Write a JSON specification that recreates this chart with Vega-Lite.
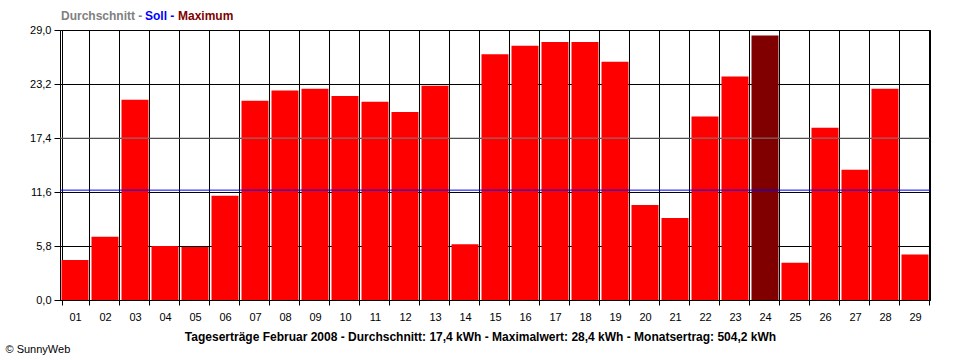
{
  "$schema": "https://vega.github.io/schema/vega-lite/v6.json",
  "width": 870,
  "height": 270,
  "autosize": "none",
  "padding": {"left": 60, "top": 30, "right": 30, "bottom": 60},
  "background": "white",
  "config": {
    "view": {"stroke": "black", "strokeWidth": 1},
    "font": "Liberation Sans"
  },
  "datasets": {
    "tage": [
      {"tag": "01", "wert": 4.3, "typ": "Tag"},
      {"tag": "02", "wert": 6.8, "typ": "Tag"},
      {"tag": "03", "wert": 21.5, "typ": "Tag"},
      {"tag": "04", "wert": 5.8, "typ": "Tag"},
      {"tag": "05", "wert": 5.7, "typ": "Tag"},
      {"tag": "06", "wert": 11.2, "typ": "Tag"},
      {"tag": "07", "wert": 21.4, "typ": "Tag"},
      {"tag": "08", "wert": 22.5, "typ": "Tag"},
      {"tag": "09", "wert": 22.7, "typ": "Tag"},
      {"tag": "10", "wert": 21.9, "typ": "Tag"},
      {"tag": "11", "wert": 21.3, "typ": "Tag"},
      {"tag": "12", "wert": 20.2, "typ": "Tag"},
      {"tag": "13", "wert": 23.0, "typ": "Tag"},
      {"tag": "14", "wert": 6.0, "typ": "Tag"},
      {"tag": "15", "wert": 26.4, "typ": "Tag"},
      {"tag": "16", "wert": 27.3, "typ": "Tag"},
      {"tag": "17", "wert": 27.7, "typ": "Tag"},
      {"tag": "18", "wert": 27.7, "typ": "Tag"},
      {"tag": "19", "wert": 25.6, "typ": "Tag"},
      {"tag": "20", "wert": 10.2, "typ": "Tag"},
      {"tag": "21", "wert": 8.8, "typ": "Tag"},
      {"tag": "22", "wert": 19.7, "typ": "Tag"},
      {"tag": "23", "wert": 24.0, "typ": "Tag"},
      {"tag": "24", "wert": 28.4, "typ": "Maximum"},
      {"tag": "25", "wert": 4.0, "typ": "Tag"},
      {"tag": "26", "wert": 18.5, "typ": "Tag"},
      {"tag": "27", "wert": 14.0, "typ": "Tag"},
      {"tag": "28", "wert": 22.7, "typ": "Tag"},
      {"tag": "29", "wert": 4.9, "typ": "Tag"}
    ],
    "soll": [{"soll": 11.8}]
  },
  "layer": [
    {
      "data": {"name": "tage"},
      "mark": {"type": "bar"},
      "encoding": {
        "x": {
          "field": "tag",
          "type": "ordinal",
          "title": "Tageserträge Februar 2008 - Durchschnitt: 17,4 kWh - Maximalwert: 28,4 kWh - Monatsertrag: 504,2 kWh",
          "scale": {"paddingInner": 0.1, "paddingOuter": 0.05},
          "axis": {
            "tickBand": "extent",
            "grid": true,
            "gridColor": "black",
            "gridOpacity": 1,
            "gridWidth": 1,
            "domainColor": "black",
            "tickColor": "black",
            "tickSize": 5,
            "labelAngle": 0,
            "labelFont": "Liberation Sans",
            "labelFontSize": 11,
            "labelColor": "black",
            "labelPadding": 6,
            "titleFont": "Liberation Sans",
            "titleFontSize": 12,
            "titleFontWeight": "bold",
            "titleColor": "black",
            "titleX": 420,
            "titleY": 40,
            "titleAlign": "center",
            "titleBaseline": "alphabetic"
          }
        },
        "y": {
          "field": "wert",
          "type": "quantitative",
          "title": "© SunnyWeb",
          "scale": {"domain": [0, 29], "nice": false, "zero": true},
          "axis": {
            "values": [0, 5.8, 11.6, 17.4, 23.2, 29],
            "labelExpr": "replace(format(datum.value, '.1f'), '.', ',')",
            "grid": true,
            "gridColor": "black",
            "gridOpacity": 1,
            "gridWidth": 1,
            "domainColor": "black",
            "tickColor": "black",
            "tickSize": 6,
            "labelColor": "black",
            "labelFont": "Liberation Sans",
            "labelFontSize": 11,
            "labelPadding": 3,
            "titleAngle": 0,
            "titleX": -55,
            "titleY": 319,
            "titleAlign": "left",
            "titleBaseline": "middle",
            "titleFont": "Liberation Sans",
            "titleFontWeight": "normal",
            "titleFontSize": 11,
            "titleColor": "black"
          }
        },
        "color": {
          "field": "typ",
          "type": "nominal",
          "scale": {"domain": ["Tag", "Maximum"], "range": ["#ff0000", "#800000"]},
          "legend": {
            "values": ["Maximum"],
            "title": null,
            "orient": "none",
            "legendX": 106,
            "legendY": -20,
            "symbolSize": 0,
            "symbolOpacity": 0,
            "symbolStrokeWidth": 0,
            "labelOffset": 0,
            "labelColor": "#800000",
            "labelFont": "Liberation Sans",
            "labelFontSize": 12,
            "labelFontWeight": "bold",
            "padding": 0
          }
        }
      }
    },
    {
      "data": {"name": "tage"},
      "mark": {"type": "rule", "strokeWidth": 1},
      "encoding": {
        "y": {
          "aggregate": "mean",
          "field": "wert",
          "type": "quantitative",
          "title": "© SunnyWeb",
          "scale": {"domain": [0, 29], "nice": false, "zero": true}
        },
        "color": {
          "datum": "Durchschnitt -",
          "type": "nominal",
          "scale": {"domain": ["Durchschnitt -"], "range": ["#808080"]},
          "legend": {
            "title": null,
            "orient": "none",
            "legendX": -11,
            "legendY": -20,
            "symbolSize": 0,
            "symbolOpacity": 0,
            "symbolStrokeWidth": 0,
            "labelOffset": 0,
            "labelColor": "#808080",
            "labelFont": "Liberation Sans",
            "labelFontSize": 12,
            "labelFontWeight": "bold",
            "padding": 0
          }
        }
      }
    },
    {
      "data": {"name": "soll"},
      "mark": {"type": "rule", "strokeWidth": 1},
      "encoding": {
        "y": {
          "field": "soll",
          "type": "quantitative",
          "title": "© SunnyWeb",
          "scale": {"domain": [0, 29], "nice": false, "zero": true}
        },
        "color": {
          "datum": "Soll -",
          "type": "nominal",
          "scale": {"domain": ["Soll -"], "range": ["#0000ff"]},
          "legend": {
            "title": null,
            "orient": "none",
            "legendX": 73,
            "legendY": -20,
            "symbolSize": 0,
            "symbolOpacity": 0,
            "symbolStrokeWidth": 0,
            "labelOffset": 0,
            "labelColor": "#0000ff",
            "labelFont": "Liberation Sans",
            "labelFontSize": 12,
            "labelFontWeight": "bold",
            "padding": 0
          }
        }
      }
    }
  ],
  "resolve": {"scale": {"color": "independent"}, "legend": {"color": "independent"}}
}
